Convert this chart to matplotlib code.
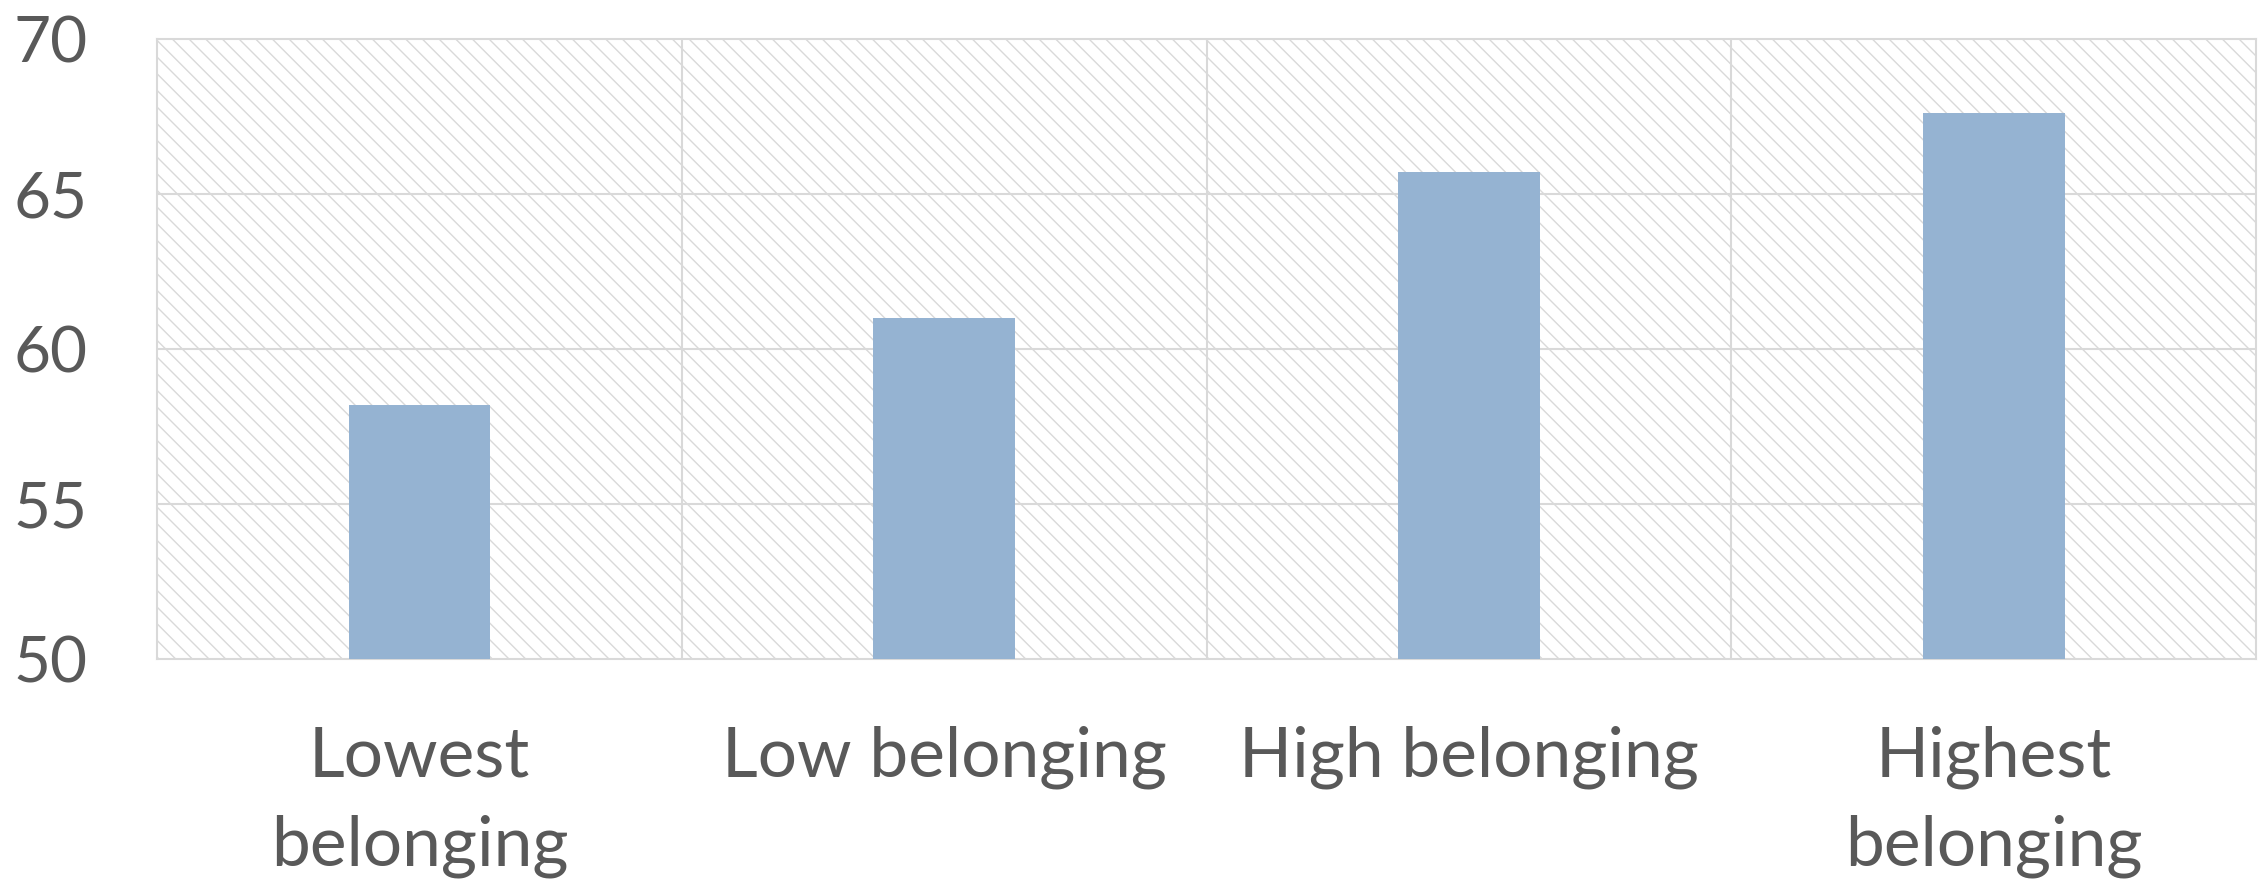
import matplotlib.pyplot as plt
from matplotlib.patches import Rectangle

categories = ['Lowest\nbelonging', 'Low belonging', 'High belonging', 'Highest\nbelonging']
values = [58.2, 61.0, 65.7, 67.6]
yticks = [50, 55, 60, 65, 70]

BAR = '#95b3d2'
GRID = '#d9d9d9'
TEXT = '#595959'

plt.rcParams['font.family'] = ['Lato', 'DejaVu Sans']
plt.rcParams['hatch.linewidth'] = 1.0

fig = plt.figure(figsize=(22.67, 8.85), dpi=100)
ax = fig.add_axes([0.0693, 0.2554, 0.9259, 0.7005])

# hatched plot background
ax.add_patch(Rectangle((0, 0), 1, 1, transform=ax.transAxes, fill=False,
                       hatch='\\\\', edgecolor=GRID, linewidth=0, zorder=0))

x = range(len(categories))
ax.bar(x, values, width=0.27, bottom=0, color=BAR, zorder=3)

ax.set_xlim(-0.5, len(categories) - 0.5)
ax.set_ylim(50, 70)
ax.set_yticks(yticks)
ax.set_xticks(list(x))
ax.set_xticklabels(categories, linespacing=1.5, fontsize=50)

# grid lines: horizontal at ticks, vertical between categories
for y in yticks[1:-1]:
    ax.axhline(y, color=GRID, lw=1.5, zorder=1)
for xb in [0.5, 1.5, 2.5]:
    ax.axvline(xb, color=GRID, lw=1.5, zorder=1)

for s in ax.spines.values():
    s.set_color(GRID)
    s.set_linewidth(1.5)

ax.tick_params(axis='both', length=0, labelcolor=TEXT)
ax.tick_params(axis='y', labelsize=46, pad=50)
ax.tick_params(axis='x', pad=48)

fig.savefig('out.png', dpi=100)
